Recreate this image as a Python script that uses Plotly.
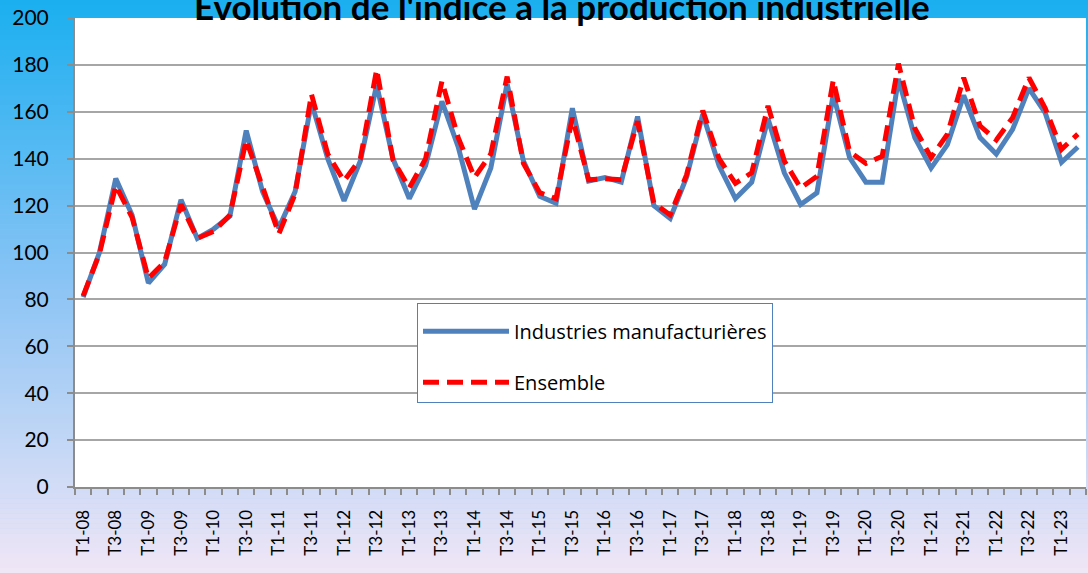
import plotly.graph_objects as go

# quarters T1-08 .. T2-23
years = ["%02d" % y for y in range(8, 24)]
quarters = [f"T{q}-{y}" for y in years for q in range(1, 5)][:62]

# Industries manufacturieres
manuf = [81, 100, 131.5, 116, 87, 95, 122.5, 106, 110, 115.5,
         152, 126, 110.5, 126, 164, 140, 122, 139, 171.5, 140,
         123, 137, 164.5, 145, 118.5, 136, 172, 139, 124, 121,
         161.5, 130.5, 132, 130, 158, 120, 114.5, 132, 159, 137,
         123, 130, 157, 134, 120.5, 125.5, 167.5, 140.5, 130, 130,
         174, 149, 136, 146, 167, 149, 142, 152.5, 170, 159.5,
         138.5, 145]

# Ensemble
ensemble = [81.5, 99.5, 128.5, 115, 89, 96, 120.5, 106, 109, 116,
            148, 127.5, 108, 125, 167.5, 142, 130.5, 140, 178, 139.5,
            127.5, 140, 173, 149, 132, 142, 175, 138, 125.5, 123,
            157.5, 131, 131.5, 131, 156, 121, 116, 133, 160.5, 140,
            129.5, 134, 162.5, 139, 127.5, 132.5, 173.5, 143, 138, 141,
            180.5, 153, 140.5, 150.5, 174.5, 154, 148, 157.5, 174.5, 161.5,
            144, 150.5]

idx = list(range(len(quarters)))

W, H = 1088, 573
ml, mr, mt, mb = 75, 2, 18, 86
pw, ph = W - ml - mr, H - mt - mb

fig = go.Figure()
fig.add_trace(go.Scatter(x=idx, y=manuf, mode="lines", name="Industries manufacturières",
                         legendgroup="a",
                         line=dict(color="#4F81BD", width=5)))
fig.add_trace(go.Scatter(x=idx, y=ensemble, mode="lines", name="Ensemble",
                         legendgroup="b",
                         line=dict(color="#FF0000", width=5, dash="16px,8px")))

# background gradient (sky blue -> lavender) built from strips
stops = [(0.0, (26, 175, 240)), (0.5, (140, 196, 245)), (1.0, (240, 230, 246))]
def grad(t):
    for (t0, c0), (t1, c1) in zip(stops[:-1], stops[1:]):
        if t <= t1:
            f = (t - t0) / (t1 - t0)
            return "rgb(%d,%d,%d)" % tuple(round(a + (b - a) * f) for a, b in zip(c0, c1))
    return "rgb(%d,%d,%d)" % stops[-1][1]

shapes = []
n = 115
for i in range(n):
    py0 = H * i / n
    py1 = H * (i + 1) / n + 0.6
    shapes.append(dict(type="rect", xref="paper", yref="paper", layer="below",
                       x0=-ml / pw, x1=(W - ml) / pw,
                       y0=(H - mb - py1) / ph, y1=(H - mb - py0) / ph,
                       line=dict(width=0), fillcolor=grad((i + 0.5) / n)))
shapes.append(dict(type="rect", xref="paper", yref="paper", layer="below",
                   x0=0, x1=1, y0=0, y1=1, line=dict(width=0), fillcolor="white"))

fig.update_layout(
    width=W, height=H,
    margin=dict(l=ml, r=mr, t=mt, b=mb),
    paper_bgcolor="rgb(140,196,245)",
    plot_bgcolor="white",
    shapes=shapes,
    showlegend=True,
    legend=dict(x=(417 - ml) / pw, y=(H - mb - 303) / ph, xanchor="left", yanchor="top",
                bgcolor="white", bordercolor="#4F81BD", borderwidth=1,
                font=dict(family="Open Sans", size=20, color="black"),
                title=dict(text=" ", font=dict(size=6)),
                traceorder="grouped", tracegroupgap=22, itemwidth=86),
    annotations=[dict(text="<b>Evolution de l'indice à la production industrielle</b>",
                      xref="paper", yref="paper", x=(562 - ml) / pw, y=(H - mb - 6) / ph,
                      xanchor="center", yanchor="middle", showarrow=False,
                      font=dict(family="Lato", size=35, color="black"))],
    xaxis=dict(range=[-0.5, len(quarters) - 0.5], tickmode="array",
               tickvals=idx[::2], ticktext=quarters[::2], tickangle=-90,
               ticks="", ticklabelstandoff=14, showgrid=False, zeroline=False,
               showline=True, linecolor="#8c8c8c", linewidth=2,
               tickfont=dict(family="Lato", size=17, color="black"),
               minor=dict(tickmode="array", tickvals=[i - 0.5 for i in range(len(quarters) + 1)],
                          ticks="outside", ticklen=6, tickwidth=1.5, tickcolor="#8c8c8c",
                          showgrid=False)),
    yaxis=dict(range=[0, 200], dtick=20, ticks="outside", ticklen=6, tickwidth=1.5,
               tickcolor="#8c8c8c", ticklabelstandoff=14,
               showgrid=True, gridcolor="#a6a6a6", gridwidth=1.5, zeroline=False,
               showline=True, linecolor="#8c8c8c", linewidth=2,
               tickfont=dict(family="Lato", size=21, color="black")),
)

fig.write_html("out.html", config={"displayModeBar": False},
               post_script="document.body.style.margin='0px';")
